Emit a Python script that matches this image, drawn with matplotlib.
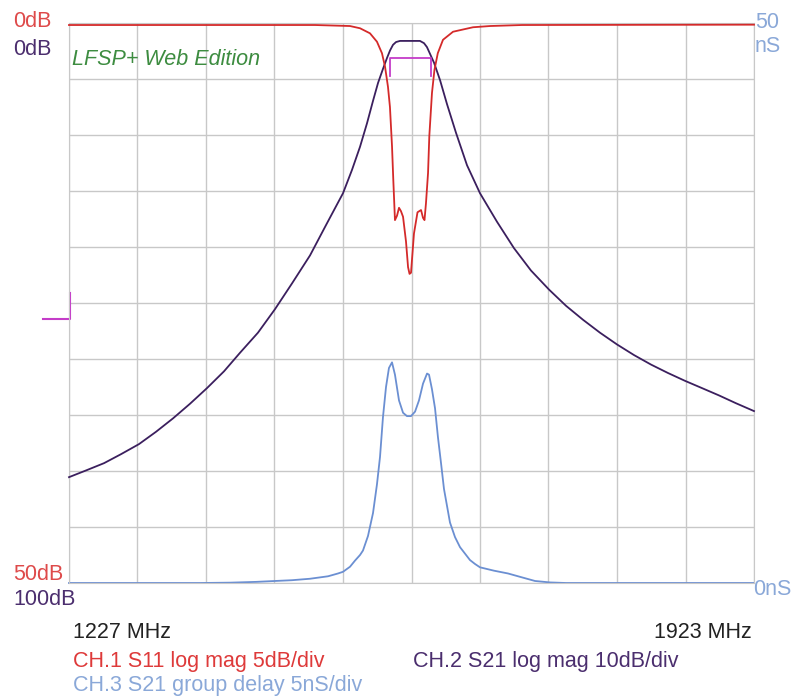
import matplotlib
matplotlib.use("Agg")
import matplotlib.pyplot as plt
import numpy as np

plt.rcParams['font.family'] = ['Liberation Sans', 'DejaVu Sans']

f_start, f_stop = 1227, 1923

# CH.1 S11 log mag (dB of return loss, 0 at top)
s11_f = [1227, 1477.0, 1512.5, 1522.7, 1532.8, 1539.9, 1545.0, 1548.1, 1551.1,
         1553.1, 1555.2, 1556.5, 1558.2, 1560.3, 1562.3, 1564.3, 1566.4, 1569.4,
         1571.5, 1573.0, 1574.5, 1577.5, 1581.1, 1584.7, 1586.7, 1588.2, 1589.7,
         1591.8, 1593.1, 1595.8, 1598.3, 1601.7, 1607.0, 1617.2, 1637.5, 1654.8,
         1687.3, 1923]
s11_db = [0.18, 0.18, 0.27, 0.47, 0.92, 1.67, 2.7, 3.9, 5.7,
          7.5, 11.0, 14.0, 17.6, 17.2, 16.5, 16.8, 17.3, 19.5,
          21.8, 22.4, 22.3, 18.8, 16.9, 16.7, 17.4, 17.6, 16.1,
          13.4, 10.1, 6.25, 4.2, 2.7, 1.5, 0.78, 0.38, 0.27,
          0.18, 0.15]

# CH.2 S21 log mag (insertion loss)
s21_f = [1227.0, 1244.3, 1262.6, 1279.8, 1298.1, 1315.4, 1332.7, 1349.9, 1367.2,
         1384.5, 1400.7, 1419.0, 1436.3, 1453.6, 1471.9, 1488.1, 1505.4, 1514.5,
         1522.7, 1529.8, 1535.9, 1541.0, 1546.0, 1550.1, 1553.2, 1556.2, 1559.3,
         1563.3, 1583.6, 1587.7, 1590.7, 1593.8, 1597.9, 1604.0, 1611.1, 1620.2,
         1631.4, 1644.6, 1661.9, 1679.1, 1696.4, 1714.7, 1732.0, 1749.3, 1766.5,
         1783.8, 1801.1, 1818.4, 1835.6, 1852.9, 1870.2, 1887.4, 1904.7, 1923.0]
s21_db = [81.1, 79.9, 78.6, 77.0, 75.2, 73.0, 70.6, 68.0, 65.2,
          62.2, 58.9, 55.3, 51.1, 46.5, 41.5, 36.1, 30.4, 26.25,
          22.1, 17.9, 13.9, 10.7, 8.2, 6.25, 4.9, 3.9, 3.4,
          3.2, 3.2, 3.6, 4.3, 5.5, 7.1, 10.2, 14.5, 19.6,
          25.4, 30.4, 35.5, 40.2, 44.2, 47.6, 50.5, 53.0, 55.3,
          57.4, 59.3, 61.0, 62.5, 63.9, 65.2, 66.5, 67.9, 69.3]

# CH.3 S21 group delay (nS)
gd_f = [1227, 1360.1, 1390.6, 1417.0, 1436.3, 1453.6, 1471.9, 1490.2, 1500.3,
        1505.4, 1512.5, 1517.6, 1522.7, 1525.7, 1530.8, 1535.9, 1539.9, 1543.0,
        1546.0, 1549.1, 1552.1, 1555.2, 1558.2, 1562.3, 1566.4, 1570.4, 1574.5,
        1578.6, 1582.6, 1586.7, 1590.8, 1592.8, 1595.8, 1598.9, 1601.9, 1605.0,
        1608.0, 1614.1, 1619.2, 1624.3, 1634.4, 1639.5, 1644.6, 1658.8, 1673.1,
        1685.3, 1700.5, 1715.8, 1732.0, 1923]
gd_ns = [0, 0, 0.03, 0.1, 0.18, 0.25, 0.38, 0.6, 0.85,
         1.0, 1.45, 2.0, 2.5, 2.9, 4.2, 6.25, 8.8, 11.25,
         14.8, 17.5, 19.2, 19.7, 18.6, 16.3, 15.2, 14.9, 14.9,
         15.3, 16.3, 17.8, 18.7, 18.6, 17.3, 15.6, 13.0, 10.7,
         8.4, 5.4, 4.1, 3.2, 2.05, 1.7, 1.4, 1.1, 0.85,
         0.55, 0.18, 0.05, 0, 0]

# -3 dB bandwidth marker on S21
bw_f = [1553.1, 1594.8]
bw_db = 6.2

# ---- figure ----
W, H = 799, 698
fig = plt.figure(figsize=(W / 100, H / 100), dpi=100)
ax = fig.add_axes([69 / W, 1 - 583 / H, 685 / W, 560 / H])

c_red = '#d42a2a'
c_purple = '#3b1f5e'
c_blue = '#6b8fd2'
c_grid = '#c8c8c8'

# grid / frame (group delay axis is the base one)
ax.set_xlim(f_start, f_stop)
ax.set_ylim(0, 50)
ax.set_xticks(np.linspace(f_start, f_stop, 11))
ax.set_yticks(np.arange(0, 51, 5))
ax.grid(True, color=c_grid, linewidth=1.0)
ax.tick_params(length=0, labelbottom=False, labelleft=False)
for s in ax.spines.values():
    s.set_color(c_grid)
ax.plot(gd_f, gd_ns, color=c_blue, lw=1.3, clip_on=False)

# S21
ax2 = ax.twinx()
ax2.set_ylim(100, 0)
ax2.axis('off')
ax2.plot(s21_f, s21_db, color=c_purple, lw=1.3, clip_on=False)
ax2.plot([bw_f[0], bw_f[0], bw_f[1], bw_f[1]],
         [bw_db + 3.2, bw_db, bw_db, bw_db + 3.2], color='#c43cc8', lw=1.3)

# S11
ax3 = ax.twinx()
ax3.set_ylim(50, 0)
ax3.axis('off')
ax3.plot(s11_f, s11_db, color=c_red, lw=1.3, clip_on=False)

# reference marker at left
ax.plot([-0.038, 0.0015, 0.0015], [0.4714, 0.4714, 0.5179], transform=ax.transAxes,
        color='#c43cc8', lw=1.5, clip_on=False)


def label(x, y, s, color, ha='left', **kw):
    fig.text(x / W, 1 - y / H, s, color=color, ha=ha, va='baseline',
             fontsize=15.5, **kw)


label(13, 27, '0dB', '#de4a4a')
label(13, 55, '0dB', '#4b2e6e')
label(72, 65, 'LFSP+ Web Edition', '#3d8c40', style='italic')
label(755, 28, '50', '#8aa8d8')
label(755, 52, 'nS', '#8aa8d8')
label(13, 580, '50dB', '#de4a4a')
label(13, 605, '100dB', '#4b2e6e')
label(753, 595, '0nS', '#8aa8d8')
label(73, 638, '1227 MHz', '#222222')
label(752, 638, '1923 MHz', '#222222', ha='right')
label(73, 667, 'CH.1 S11 log mag 5dB/div', '#de3a3a')
label(413, 667, 'CH.2 S21 log mag 10dB/div', '#4b2e6e')
label(73, 691, 'CH.3 S21 group delay 5nS/div', '#8aa8d8')

fig.savefig('out.png', dpi=100)
